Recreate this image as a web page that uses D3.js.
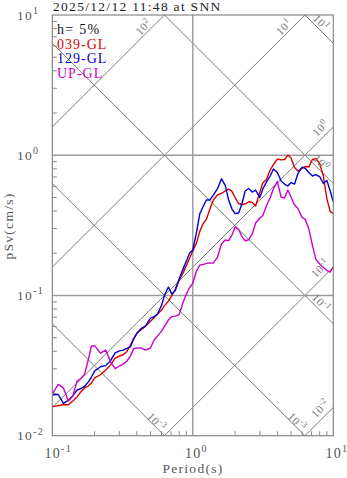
<!DOCTYPE html>
<html><head><meta charset="utf-8">
<script src="https://cdn.jsdelivr.net/npm/d3@7"></script>
<style>
body{margin:0;background:#fff}
svg{display:block}
text{font-family:"Liberation Serif","DejaVu Serif",serif;letter-spacing:1.3px}
</style>
</head><body>
<svg id="c" width="347" height="478"></svg>
<script>
// ---- data ----
const periods=[0.10,0.11,0.12,0.13,0.14,0.15,0.16,0.17,0.18,0.19,0.20,0.22,0.24,0.26,0.28,0.30,0.32,0.34,0.36,0.38,0.40,0.43,0.46,0.50,0.53,0.56,0.60,0.63,0.67,0.71,0.75,0.80,0.85,0.90,0.95,1.00,1.06,1.12,1.18,1.25,1.32,1.40,1.50,1.60,1.70,1.80,1.90,2.00,2.12,2.24,2.36,2.50,2.65,2.80,3.00,3.15,3.35,3.55,3.75,4.00,4.25,4.50,4.75,5.00,5.30,5.60,6.00,6.30,6.70,7.10,7.50,8.00,8.50,9.00,9.50,10.0];
const sv039=[0.0161,0.0164,0.0167,0.0166,0.0177,0.0189,0.0206,0.0220,0.0226,0.0238,0.0258,0.0272,0.0294,0.0320,0.0357,0.0370,0.0378,0.0399,0.0443,0.0497,0.0535,0.0571,0.0602,0.0655,0.0694,0.0734,0.0787,0.0847,0.0912,0.1002,0.1105,0.1288,0.1437,0.1639,0.1848,0.2074,0.2353,0.2852,0.3231,0.350,0.410,0.4792,0.5218,0.5348,0.5556,0.574,0.5528,0.4993,0.4524,0.4451,0.4487,0.4659,0.4598,0.4342,0.5464,0.6333,0.6743,0.7842,0.8584,0.9395,0.927,0.933,1.003,0.955,0.817,0.771,0.810,0.831,0.824,0.932,0.947,0.873,0.711,0.491,0.397,0.385];
const sv129=[0.0195,0.0197,0.0170,0.0179,0.0193,0.0211,0.0217,0.0225,0.0241,0.0262,0.0289,0.0310,0.0316,0.0343,0.0390,0.0403,0.0408,0.0420,0.0431,0.0489,0.0539,0.0583,0.0605,0.0690,0.0705,0.0737,0.0854,0.1007,0.1148,0.1023,0.1084,0.1309,0.1535,0.1760,0.2006,0.2108,0.2787,0.3807,0.4271,0.4792,0.4792,0.5201,0.5769,0.6788,0.6129,0.4792,0.4133,0.3839,0.3871,0.4524,0.5556,0.5797,0.5464,0.5646,0.4993,0.5740,0.6459,0.7110,0.7974,0.7525,0.6546,0.6231,0.6030,0.6385,0.6231,0.7403,0.8240,0.8065,0.7525,0.7110,0.7282,0.7047,0.6282,0.6600,0.5556,0.4659];
const svUP=[0.0198,0.0232,0.0219,0.0177,0.0192,0.0244,0.0256,0.0275,0.0346,0.0436,0.0439,0.0388,0.0408,0.0335,0.0301,0.0314,0.0324,0.0341,0.0371,0.0418,0.0422,0.0422,0.0408,0.0422,0.0481,0.0513,0.0557,0.0605,0.0668,0.0707,0.0713,0.0731,0.0883,0.1023,0.1139,0.1226,0.1481,0.1647,0.1661,0.1694,0.1708,0.1701,0.1879,0.2326,0.2484,0.2457,0.2697,0.3075,0.2951,0.2630,0.2457,0.2497,0.2741,0.3284,0.3565,0.3714,0.4377,0.4951,0.5786,0.6491,0.5034,0.4951,0.5646,0.5034,0.4413,0.4167,0.3594,0.3507,0.2976,0.2288,0.1818,0.1675,0.1581,0.1505,0.1469,0.1602];
const seriesNames=["039-GL","129-GL","UP-GL"];
const seriesColors=["#dd0000","#0000d0","#cc00cc"];
const xTicks=[0.1,1,10];
const xTickExp=["-1","0","1"];
const yTicks=[0.01,0.1,1,10];
const yTickExp=["-2","-1","0","1"];
const gridX=[1];
const gridY=[0.1,1];
const accelLines=[0.01,0.1,1,10,100];        // cm/s^2
const accelLabels=["-2","-1","0","1","2"];
const dispLines=[0.001,0.01,0.1,1,10];       // cm
const dispLabels=["-3","-3","-1","0","1"];
const titleText="2025/12/12 11:48 at SNN";
const dampText="h= 5%";
const xTitle="Period(s)";
const yTitle="pSv(cm/s)";

// ---- layout ----
const L=52.3,R=333.3,T=15,B=435.7;
const svg=d3.select("#c");
const x=d3.scaleLog().domain([0.1,10]).range([L,R]);
const y=d3.scaleLog().domain([0.01,10]).range([B,T]);
const TWO_PI=2*Math.PI;

svg.append("defs").append("clipPath").attr("id","pc")
  .append("rect").attr("x",L).attr("y",T).attr("width",R-L).attr("height",B-T);
const plot=svg.append("g").attr("clip-path","url(#pc)");

// tripartite lines
const diagColor="#7a7a7a";
const tExt=[0.01,1000];
accelLines.forEach(a=>{
  plot.append("line")
    .attr("x1",x(tExt[0])).attr("y1",y(a*tExt[0]/TWO_PI))
    .attr("x2",x(tExt[1])).attr("y2",y(a*tExt[1]/TWO_PI))
    .attr("stroke",diagColor).attr("stroke-width",1);
});
dispLines.forEach(d=>{
  plot.append("line")
    .attr("x1",x(tExt[0])).attr("y1",y(TWO_PI*d/tExt[0]))
    .attr("x2",x(tExt[1])).attr("y2",y(TWO_PI*d/tExt[1]))
    .attr("stroke",diagColor).attr("stroke-width",1);
});

// grid lines
gridX.forEach(g=>plot.append("line").attr("x1",x(g)).attr("x2",x(g)).attr("y1",T).attr("y2",B)
  .attr("stroke","#9a9a9a").attr("stroke-width",1.4));
gridY.forEach(g=>plot.append("line").attr("x1",L).attr("x2",R).attr("y1",y(g)).attr("y2",y(g))
  .attr("stroke","#9a9a9a").attr("stroke-width",1.4));

// minor ticks (inside)
const minors=[];
[0.1,1].forEach(dec=>{for(let k=2;k<=9;k++)minors.push(dec*k);});
minors.forEach(v=>svg.append("line").attr("x1",x(v)).attr("x2",x(v)).attr("y1",B).attr("y2",B-4.5)
  .attr("stroke","#888").attr("stroke-width",1));
const yminors=[];
[0.01,0.1,1].forEach(dec=>{for(let k=2;k<=9;k++)yminors.push(dec*k);});
yminors.forEach(v=>svg.append("line").attr("x1",L).attr("x2",L+4.5).attr("y1",y(v)).attr("y2",y(v))
  .attr("stroke","#888").attr("stroke-width",1));

// series
const line=d3.line().x(d=>x(d[0])).y(d=>y(d[1]));
[sv039,sv129,svUP].forEach((s,i)=>{
  plot.append("path").datum(periods.map((p,j)=>[p,s[j]]))
    .attr("d",line).attr("fill","none").attr("stroke",seriesColors[i]).attr("stroke-width",1.4)
    .attr("stroke-linejoin","round");
});

// frame
svg.append("rect").attr("x",L).attr("y",T).attr("width",R-L).attr("height",B-T)
  .attr("fill","none").attr("stroke","#888").attr("stroke-width",1.2);

// diagonal labels
function powLabel(g,exp,fs,sfs,cx,cy,rot){
  const t=g.append("text").attr("transform",`translate(${cx},${cy}) rotate(${rot})`)
    .attr("text-anchor","middle").attr("dy","0.35em").attr("fill","#777")
    .style("font-size",fs+"px").style("letter-spacing","0.5px");
  t.append("tspan").text("10");
  t.append("tspan").attr("dy",-fs*0.4).style("font-size",sfs+"px").text(exp);
}
accelLines.forEach((a,i)=>{
  const tTop=TWO_PI*10/a;
  let px,py;
  if(tTop<=10){px=x(tTop)-21;py=y(10)+12;}
  else{px=x(10)-13;py=y(a*10/TWO_PI)+1;}
  powLabel(svg,accelLabels[i],11.5,8.5,px,py,-45);
});
dispLines.forEach((d,i)=>{
  const svR=TWO_PI*d/10;
  let px,py;
  if(svR>=0.01){px=x(10)-12;py=y(svR)-21;}
  else{px=x(TWO_PI*d/0.01)-8;py=B-14;}
  powLabel(svg,dispLabels[i],11.5,8.5,px,py,45);
});

// tick labels
xTicks.forEach((t,i)=>{
  const tx=svg.append("text").attr("x",x(t)-7.8).attr("y",458).attr("fill","#555").style("font-size","14px");
  tx.append("tspan").text("10");
  tx.append("tspan").attr("dy",-6).style("font-size","10px").text(xTickExp[i]);
});
yTicks.forEach((t,i)=>{
  const tx=svg.append("text").attr("x",17).attr("y",y(t)+4.5).attr("fill","#555").style("font-size","13.5px");
  tx.append("tspan").text("10");
  tx.append("tspan").attr("dy",-5.5).style("font-size","10px").text(yTickExp[i]);
});

// titles
svg.append("text").attr("x",53).attr("y",11).attr("fill","#222").style("font-size","13.5px").text(titleText);
svg.append("text").attr("x",193).attr("y",473).attr("text-anchor","middle").attr("fill","#555")
  .style("font-size","13.5px").text(xTitle);
svg.append("text").attr("transform","translate(13,226) rotate(-90)").attr("text-anchor","middle")
  .attr("fill","#555").style("font-size","13.5px").text(yTitle);

// legend
svg.append("text").attr("x",57).attr("y",34).attr("fill","#111").style("font-size","14px").text(dampText);
seriesNames.forEach((n,i)=>{
  svg.append("text").attr("x",57).attr("y",48.5+i*14.5).attr("fill",seriesColors[i])
    .style("font-size","14px").style("letter-spacing","1px").text(n);
});
</script>
</body></html>
